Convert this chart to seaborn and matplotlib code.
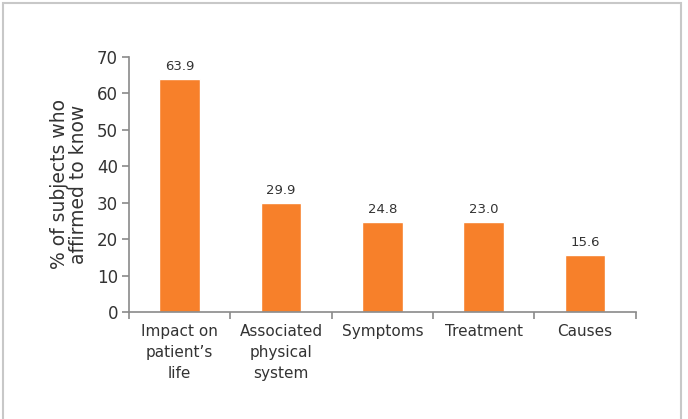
import matplotlib
matplotlib.use("Agg")
import matplotlib.pyplot as plt
import seaborn as sns
import pandas as pd
from matplotlib.patches import Rectangle

# data
categories = ["Impact on\npatient\u2019s\nlife", "Associated\nphysical\nsystem", "Symptoms", "Treatment", "Causes"]
bar_heights = [63.9, 29.9, 24.8, 24.8, 15.6]   # the Treatment bar is drawn level with Symptoms
value_labels = ["63.9", "29.9", "24.8", "23.0", "15.6"]
y_ticks = [0, 10, 20, 30, 40, 50, 60, 70]

sns.set_style("white")
plt.rcParams["font.family"] = ["DejaVu Sans"]

orange = "#F7802A"
text_col = "#333333"
axis_col = "#8a8a8a"

df = pd.DataFrame({"topic": categories, "pct": bar_heights})

fig = plt.figure(figsize=(6.88, 4.19), dpi=100)
ax = fig.add_axes([0.1875, 0.2554, 0.7365, 0.6086])

sns.barplot(data=df, x="topic", y="pct", color=orange, width=0.4,
            saturation=1, ax=ax)

for i, lab in enumerate(value_labels):
    ax.text(i, bar_heights[i] + 1.6, lab, ha="center", va="bottom",
            fontsize=9.5, color=text_col)

ax.set_ylim(0, 70)
ax.set_xlim(-0.5, len(categories) - 0.5)
ax.set_yticks(y_ticks)
ax.set_yticklabels([str(t) for t in y_ticks], fontsize=12, color=text_col)
ax.set_xticks([i - 0.5 for i in range(len(categories) + 1)], minor=False)
ax.set_xticklabels([])
ax.set_xticks(range(len(categories)), minor=True)
ax.set_xticklabels(categories, minor=True, fontsize=11, color=text_col,
                   linespacing=1.5)
ax.tick_params(axis="x", which="minor", bottom=True, length=0, pad=9)
ax.tick_params(axis="x", which="major", bottom=True, length=5, width=1.2,
               color=axis_col, direction="out")
ax.tick_params(axis="y", left=True, length=5, width=1.2, color=axis_col,
               direction="out", pad=3)

ax.set_xlabel("")
ax.set_ylabel("% of subjects who\naffirmed to know", fontsize=13.5,
              color=text_col, labelpad=6, linespacing=1.0)

for side in ["top", "right"]:
    ax.spines[side].set_visible(False)
for side in ["left", "bottom"]:
    ax.spines[side].set_color(axis_col)
    ax.spines[side].set_linewidth(1.2)

# light frame around the whole figure
fig.patches.append(Rectangle((0.005, -0.02), 0.985, 1.013, transform=fig.transFigure,
                             fill=False, edgecolor="#c8c8c8", linewidth=1.5))

fig.savefig("out.png", dpi=100)
